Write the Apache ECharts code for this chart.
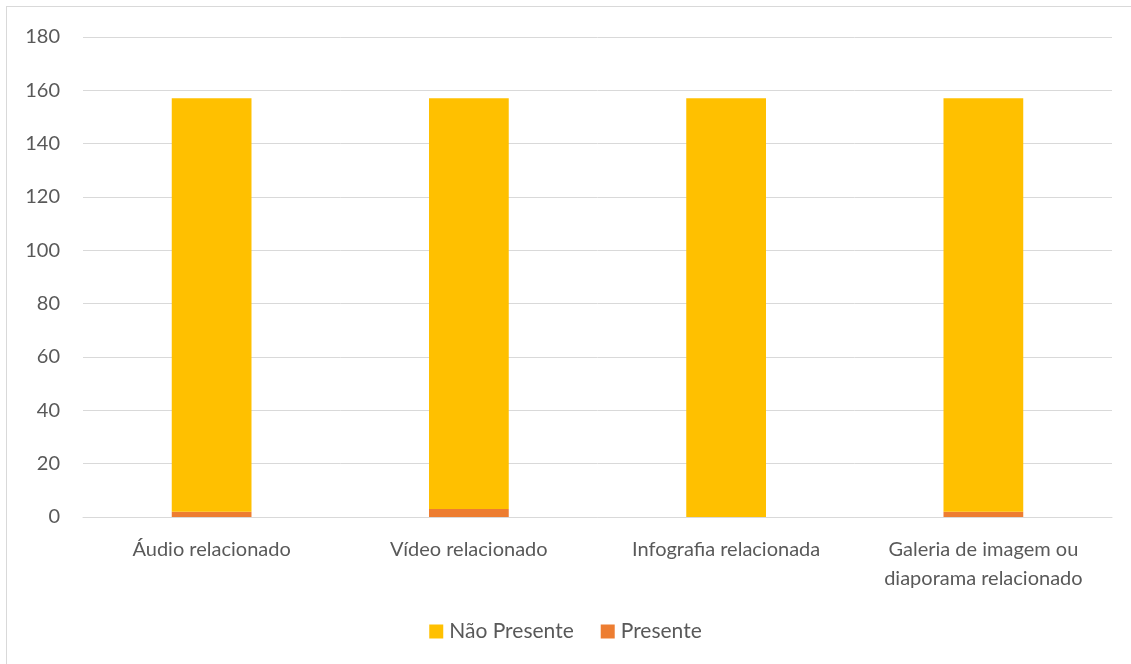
<!DOCTYPE html>
<html><head><meta charset="utf-8">
<script src="https://cdn.jsdelivr.net/npm/echarts@6/dist/echarts.min.js"></script>
<style>
html,body{margin:0;padding:0;background:#fff;}
#frame{position:absolute;left:6px;top:6px;width:1140px;height:670px;border:1px solid #d9d9d9;box-sizing:border-box;}
#chart{position:absolute;left:0;top:0;width:1131px;height:664px;}
</style></head>
<body>
<div id="frame"></div>
<div id="chart"></div>
<script>
const categories = ['Áudio relacionado', 'Vídeo relacionado', 'Infografia relacionada', 'Galeria de imagem ou\ndiaporama relacionado'];
const naoPresente = [155, 154, 157, 155];
const presente = [2, 3, 0, 2];
const yTicks = { min: 0, max: 180, interval: 20 };

const chart = echarts.init(document.getElementById('chart'), null, { renderer: 'canvas' });
const font = 'Lato, "Open Sans", sans-serif';
chart.setOption({
  animation: false,
  textStyle: { fontFamily: font },
  grid: { left: 83, right: 19, top: 37, bottom: 147, containLabel: false },
  legend: {
    top: 616, left: 'center', itemWidth: 14, itemHeight: 14, itemGap: 27,
    icon: 'rect',
    textStyle: { fontSize: 21, color: '#595959', fontFamily: font, padding: [0, 0, 0, 1] },
    data: ['Não Presente', 'Presente']
  },
  xAxis: {
    type: 'category', data: categories,
    axisLine: { lineStyle: { color: '#d9d9d9', width: 1 } },
    axisTick: { show: false },
    axisLabel: { fontSize: 20, color: '#595959', margin: 18, lineHeight: 29, interval: 0, fontFamily: font }
  },
  yAxis: {
    type: 'value', min: yTicks.min, max: yTicks.max, interval: yTicks.interval,
    axisLine: { show: false }, axisTick: { show: false },
    splitLine: { lineStyle: { color: '#d9d9d9', width: 1 } },
    axisLabel: { fontSize: 20, color: '#595959', margin: 23, fontFamily: font }
  },
  series: [
    { name: 'Presente', type: 'bar', stack: 'a', data: presente, barWidth: '31%', itemStyle: { color: '#ed7d31' } },
    { name: 'Não Presente', type: 'bar', stack: 'a', data: naoPresente, barWidth: '31%', itemStyle: { color: '#ffc000' } }
  ]
});
</script>
</body></html>
